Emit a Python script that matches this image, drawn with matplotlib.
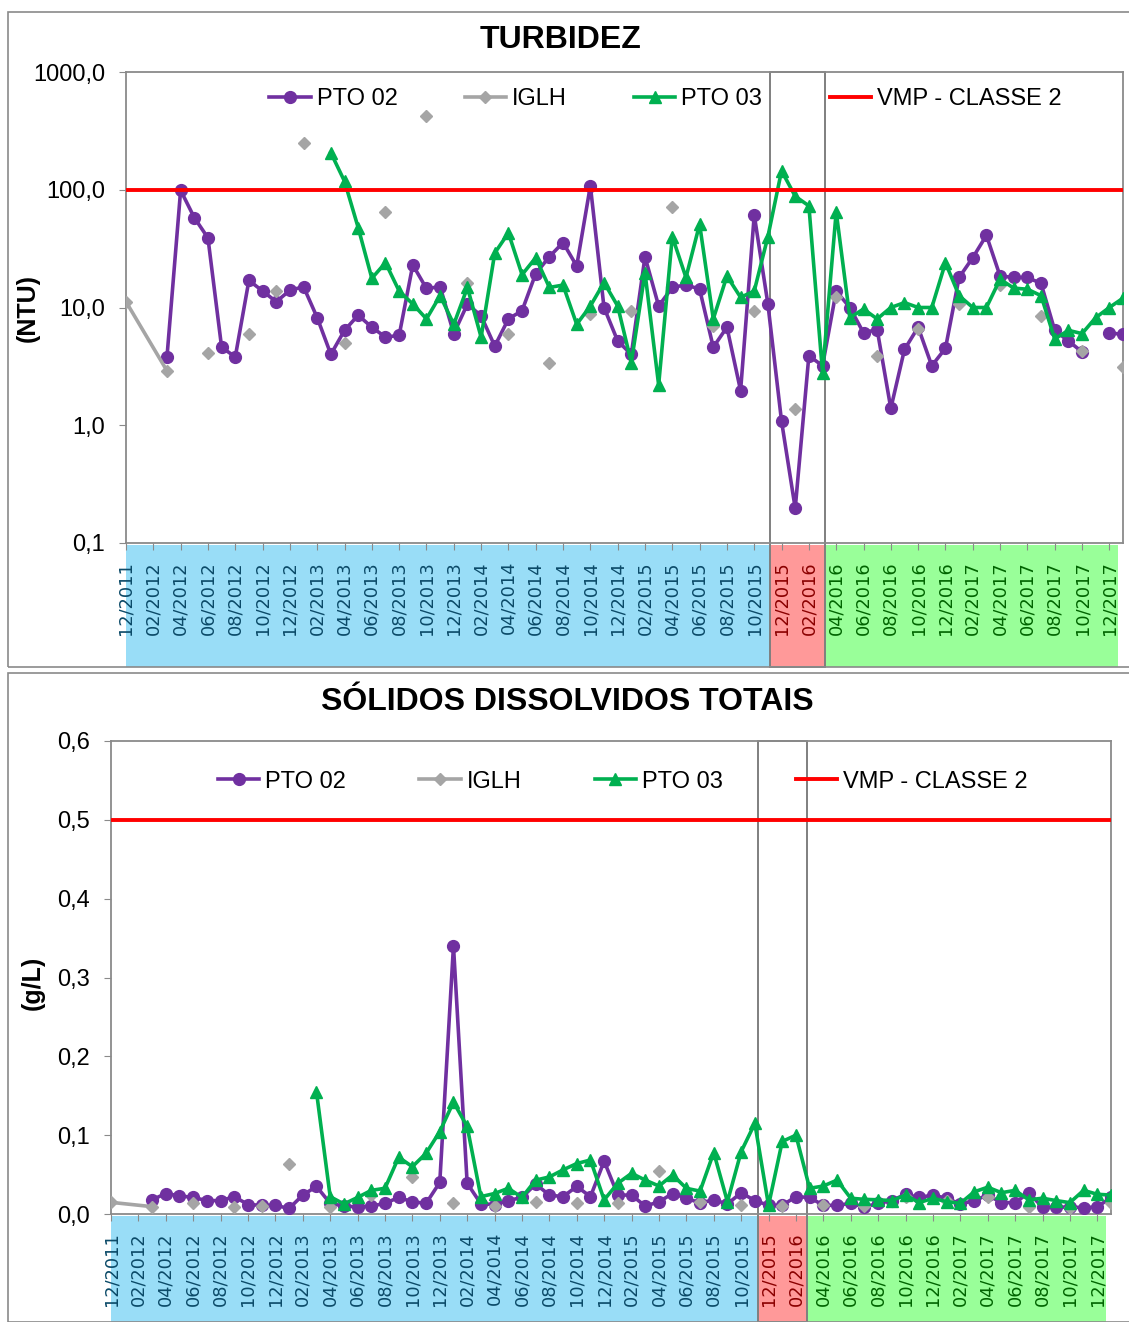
import numpy as np
import matplotlib
matplotlib.use('Agg')
import matplotlib.pyplot as plt
from matplotlib.patches import Rectangle
from matplotlib.transforms import blended_transform_factory
from matplotlib.ticker import FixedLocator, NullLocator, FuncFormatter

plt.rcParams['font.family'] = ['Liberation Sans', 'DejaVu Sans']

nan = np.nan

# datas de coleta (uma linha por campanha)
meses = ['12/2011',
         '03/2012', '04/2012', '05/2012', '06/2012', '07/2012', '08/2012', '09/2012', '10/2012', '11/2012', '12/2012',
         '01/2013', '02/2013', '03/2013', '04/2013', '05/2013', '06/2013', '07/2013', '08/2013', '09/2013', '10/2013', '11/2013', '12/2013',
         '01/2014', '02/2014', '03/2014', '04/2014', '05/2014', '06/2014', '07/2014', '08/2014', '09/2014', '10/2014', '11/2014', '12/2014',
         '01/2015', '02/2015', '03/2015', '04/2015', '05/2015', '06/2015', '07/2015', '08/2015', '09/2015', '10/2015', '11/2015', '12/2015',
         '01/2016', '02/2016', '03/2016', '04/2016', '05/2016', '06/2016', '07/2016', '08/2016', '09/2016', '10/2016', '11/2016', '12/2016',
         '01/2017', '02/2017', '03/2017', '04/2017', '05/2017', '06/2017', '07/2017', '08/2017', '09/2017', '10/2017', '11/2017', '12/2017',
         '01/2018']

rotulos_x = ['12/2011', '02/2012', '04/2012', '06/2012', '08/2012', '10/2012', '12/2012',
             '02/2013', '04/2013', '06/2013', '08/2013', '10/2013', '12/2013',
             '02/2014', '04/2014', '06/2014', '08/2014', '10/2014', '12/2014',
             '02/2015', '04/2015', '06/2015', '08/2015', '10/2015', '12/2015',
             '02/2016', '04/2016', '06/2016', '08/2016', '10/2016', '12/2016',
             '02/2017', '04/2017', '06/2017', '08/2017', '10/2017', '12/2017']

# TURBIDEZ (NTU)
turb_pto02 = [nan,
              3.8, 99, 58, 39, 4.6, 3.8, 17, 13.8, 11.2, 14,
              15, 8.2, 4.0, 6.4, 8.6, 6.8, 5.6, 5.8, 23, 14.5, 15, 6.0,
              10.7, 8.5, 4.7, 8.0, 9.4, 19.4, 27, 35.6, 22.5, 108, 10, 5.2,
              4.0, 27, 10.3, 14.8, 15.6, 14.3, 4.6, 6.8, 1.97, 61, 10.7, 1.08,
              0.197, 3.9, 3.2, 13.8, 10, 6.1, 6.5, 1.39, 4.4, 6.8, 3.2, 4.5,
              18, 26.5, 41, 18.5, 18, 18, 16, 6.4, 5.2, 4.2, nan, 6.1,
              5.9]
turb_iglh = [11.2,
             2.9, nan, nan, 4.1, nan, nan, 5.9, nan, 13.7, nan,
             250, nan, nan, 5.0, nan, nan, 65, nan, nan, 421, nan, nan,
             16.3, nan, nan, 6.0, nan, nan, 3.4, nan, nan, 8.8, nan, nan,
             9.4, nan, nan, 72, nan, nan, 6.9, nan, nan, 9.3, nan, nan,
             1.37, nan, nan, 12.2, nan, nan, 3.85, nan, nan, 6.6, nan, nan,
             10.7, nan, nan, 15.6, nan, nan, 8.5, nan, nan, 4.3, nan, nan,
             3.1]
turb_pto03 = [nan,
              nan, nan, nan, nan, nan, nan, nan, nan, nan, nan,
              nan, nan, 206, 118, 47.7, 17.7, 24, 13.8, 10.7, 8.0, 12.6, 7.2,
              14.8, 5.6, 29, 43, 19, 26.5, 14.8, 15.5, 7.2, 10.3, 16.3, 10.3,
              3.4, 19.8, 2.2, 40, 18, 51, 8.0, 18.5, 12.2, 13.8, 40, 145,
              88, 73, 2.8, 65, 8.2, 9.7, 8.0, 10, 11, 10, 10, 24,
              12.6, 10, 10, 17.4, 14.6, 14.3, 12.6, 5.4, 6.4, 6.0, 8.2, 10,
              12]
turb_vmp = 100

# SÓLIDOS DISSOLVIDOS TOTAIS (g/L)
sdt_pto02 = [nan,
             0.018, 0.026, 0.023, 0.021, 0.017, 0.017, 0.022, 0.012, 0.011, 0.011,
             0.007, 0.024, 0.035, 0.0135, 0.010, 0.009, 0.010, 0.0135, 0.021, 0.0155, 0.0135, 0.040,
             0.340, 0.039, 0.013, 0.012, 0.017, 0.021, 0.038, 0.024, 0.022, 0.035, 0.022, 0.067,
             0.024, 0.024, 0.010, 0.0155, 0.026, 0.020, 0.014, 0.018, 0.0127, 0.027, 0.017, 0.011,
             0.011, 0.022, 0.021, 0.011, 0.011, 0.0135, 0.009, 0.0135, 0.017, 0.025, 0.021, 0.024,
             0.020, 0.0127, 0.017, 0.024, 0.0144, 0.0144, 0.027, 0.0085, 0.0085, 0.009, 0.008, 0.009,
             0.021]
sdt_iglh = [0.0148,
            0.0093, nan, nan, 0.0144, nan, nan, 0.0093, nan, 0.0106, nan,
            0.064, nan, nan, 0.0093, nan, nan, 0.024, nan, nan, 0.0465, nan, nan,
            0.0135, nan, nan, 0.010, nan, nan, 0.0156, nan, nan, 0.0135, nan, nan,
            0.0144, nan, nan, 0.055, nan, nan, 0.0156, nan, nan, 0.0114, nan, nan,
            0.010, nan, nan, 0.0114, nan, nan, 0.010, nan, nan, 0.022, nan, nan,
            0.016, nan, nan, 0.022, nan, nan, 0.0093, nan, nan, 0.0072, nan, nan,
            0.0135]
sdt_pto03 = [nan,
             nan, nan, nan, nan, nan, nan, nan, nan, nan, nan,
             nan, nan, 0.155, 0.022, 0.0127, 0.021, 0.030, 0.0326, 0.072, 0.060, 0.077, 0.1045,
             0.142, 0.111, 0.022, 0.026, 0.0326, 0.021, 0.043, 0.047, 0.056, 0.064, 0.0685, 0.018,
             0.039, 0.0516, 0.043, 0.0355, 0.0495, 0.0326, 0.029, 0.078, 0.0156, 0.079, 0.115, 0.011,
             0.092, 0.100, 0.0326, 0.0355, 0.043, 0.020, 0.0186, 0.018, 0.017, 0.024, 0.0144, 0.020,
             0.0156, 0.0135, 0.028, 0.034, 0.027, 0.030, 0.018, 0.020, 0.017, 0.0144, 0.030, 0.025,
             0.024]
sdt_vmp = 0.5

W, H = 1129, 1322
CINZA = '#8a8a8a'


def fx(px):
    return px / W


def fy(py):
    return 1 - py / H


def mes_idx(s):
    m, a = s.split('/')
    return (int(a) - 2011) * 12 + int(m) - 12


x = [mes_idx(m) for m in meses]
pos_rotulos = [mes_idx(r) for r in rotulos_x]


def cor_rotulo(p):
    if p < 47:
        return '#0b4a68'
    if p < 51:
        return '#8b0000'
    return '#006400'


def painel(ax, pto02, iglh, pto03, vmp, faixa_y, caixa_x, caixa_top, leg_xy, colsp):
    ax.plot(x, pto02, color='#7030A0', lw=2.6, marker='o', ms=8.5, zorder=3, label='PTO 02')
    ax.plot(x, iglh, color='#A5A5A5', lw=2.6, marker='D', ms=6.5, zorder=4, label='IGLH')
    ax.plot(x, pto03, color='#00B050', lw=2.6, marker='^', ms=9, zorder=5, label='PTO 03')
    ax.axhline(vmp, color='#FF0000', lw=2.8, zorder=6, label='VMP - CLASSE 2')

    ax.set_xlim(0, 73)
    ax.set_xticks(pos_rotulos)
    ax.set_xticklabels(rotulos_x, rotation=90, fontsize=12.8, family='DejaVu Sans')
    for t, p in zip(ax.get_xticklabels(), pos_rotulos):
        t.set_color(cor_rotulo(p))
    ax.tick_params(axis='x', direction='out', length=5, color=CINZA, pad=8)
    ax.tick_params(axis='y', direction='out', length=5, color=CINZA, labelsize=17, pad=10)
    for s in ax.spines.values():
        s.set_color(CINZA)
        s.set_linewidth(1.3)

    # faixas coloridas atras dos rotulos do eixo x
    tr = blended_transform_factory(ax.transData, ax.figure.transFigure)
    y0, y1 = fy(faixa_y[1]), fy(faixa_y[0])
    for a, b, c in [(0, caixa_x[0], '#99DDF7'), (caixa_x[0], caixa_x[1], '#FF9999'),
                    (caixa_x[1], 72.6, '#99FF99')]:
        ax.add_patch(Rectangle((a, y0), b - a, y1 - y0, transform=tr, facecolor=c,
                               edgecolor='none', zorder=0.5, clip_on=False))
    ax.add_patch(Rectangle((caixa_x[0], y0), caixa_x[1] - caixa_x[0], fy(caixa_top) - y0,
                           transform=tr, fill=False, edgecolor='#7f7f7f', lw=1.4,
                           zorder=2, clip_on=False))

    ax.legend(ncol=4, loc='center', bbox_to_anchor=leg_xy, frameon=False, fontsize=17,
              handlelength=1.75, handletextpad=0.25, columnspacing=colsp,
              borderpad=0, borderaxespad=0)


fig = plt.figure(figsize=(W / 100, H / 100), dpi=100)

# molduras dos dois graficos
fig.add_artist(Rectangle((fx(8), fy(667)), 1.0, fy(12) - fy(667), transform=fig.transFigure,
                         fill=False, edgecolor=CINZA, lw=1.2))
fig.add_artist(Rectangle((fx(8), fy(1322)), 1.0, fy(673) - fy(1322), transform=fig.transFigure,
                         fill=False, edgecolor=CINZA, lw=1.2))

ax1 = fig.add_axes([fx(126), fy(543), fx(1123) - fx(126), fy(72) - fy(543)])
ax1.set_yscale('log')
ax1.set_ylim(0.1, 1000)
ax1.yaxis.set_major_locator(FixedLocator([0.1, 1, 10, 100, 1000]))
ax1.yaxis.set_minor_locator(NullLocator())
ax1.yaxis.set_major_formatter(FuncFormatter(lambda v, _: f'{v:.1f}'.replace('.', ',')))
painel(ax1, turb_pto02, turb_iglh, turb_pto03, turb_vmp, (545, 667), (47.15, 51.2), 72,
       (0.541, 0.942), 2.85)

ax2 = fig.add_axes([fx(111), fy(1214), fx(1111) - fx(111), fy(741) - fy(1214)])
ax2.set_ylim(0, 0.6)
ax2.yaxis.set_major_locator(FixedLocator([0, 0.1, 0.2, 0.3, 0.4, 0.5, 0.6]))
ax2.yaxis.set_major_formatter(FuncFormatter(lambda v, _: f'{v:.1f}'.replace('.', ',')))
painel(ax2, sdt_pto02, sdt_iglh, sdt_pto03, sdt_vmp, (1216, 1322), (47.2, 50.8), 741,
       (0.512, 0.914), 3.1)

fig.text(fx(560), fy(40), 'TURBIDEZ', ha='center', va='center', fontsize=23, fontweight='bold')
fig.text(fx(567), fy(702), 'SÓLIDOS DISSOLVIDOS TOTAIS', ha='center', va='center',
         fontsize=23, fontweight='bold')
fig.text(fx(28), fy(308), '(NTU)', rotation=90, ha='center', va='center', fontsize=18,
         fontweight='bold')
fig.text(fx(33), fy(983), '(g/L)', rotation=90, ha='center', va='center', fontsize=18,
         fontweight='bold')

fig.savefig('out.png', dpi=100)
